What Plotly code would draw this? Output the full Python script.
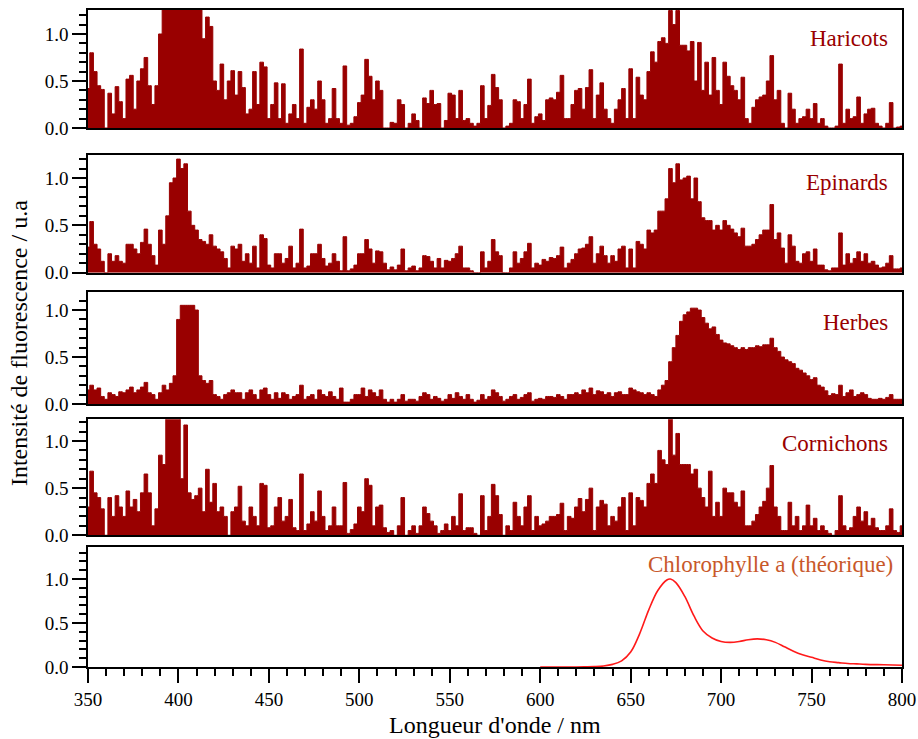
import plotly.graph_objects as go
from plotly.subplots import make_subplots

# Wavelength grid (nm) for the measured spectra
wavelength = list(range(350, 801, 2))

haricots = [
    0.42, 0.80, 0.60, 0.45, 0.41,
    0.00, 0.37, 0.15, 0.44, 0.28,
    0.10, 0.52, 0.56, 0.20, 0.50,
    0.63, 0.75, 0.45, 0.25, 0.45,
    1.00, 1.50, 1.50, 1.50, 1.50,
    1.50, 1.50, 1.50, 1.50, 1.50,
    1.50, 1.30, 0.95, 1.18, 1.08,
    0.50, 0.40, 0.68, 0.30, 0.50,
    0.61, 0.35, 0.60, 0.43, 0.15,
    0.20, 0.60, 0.25, 0.70, 0.65,
    0.10, 0.25, 0.48, 0.10, 0.47,
    0.05, 0.15, 0.25, 0.10, 0.84,
    0.05, 0.22, 0.30, 0.20, 0.50,
    0.30, 0.05, 0.10, 0.42, 0.10,
    0.05, 0.66, 0.03, 0.05, 0.12,
    0.27, 0.35, 0.73, 0.55, 0.30,
    0.50, 0.40, 0.00, 0.00, 0.06,
    0.05, 0.30, 0.25, 0.00, 0.05,
    0.15, 0.08, 0.00, 0.32, 0.26,
    0.40, 0.25, 0.26, 0.00, 0.08,
    0.37, 0.35, 0.10,
    0.40, 0.08, 0.10, 0.05, 0.02,
    0.05, 0.45, 0.10, 0.24, 0.57,
    0.43, 0.30, 0.00, 0.02, 0.05,
    0.30, 0.28, 0.10, 0.25, 0.52,
    0.05, 0.12, 0.15, 0.08, 0.30,
    0.32, 0.30, 0.38, 0.56, 0.10,
    0.10, 0.25, 0.40, 0.42, 0.20,
    0.43, 0.62, 0.10, 0.35, 0.48,
    0.20, 0.10, 0.05, 0.20, 0.30,
    0.42, 0.10, 0.63, 0.10, 0.54,
    0.35, 0.30, 0.60, 0.81, 0.70,
    0.92, 0.96, 0.90, 1.25, 1.10,
    1.25, 0.88, 0.88, 0.82, 0.92,
    0.50, 0.91, 0.40, 0.70, 0.35,
    0.75, 0.40, 0.25, 0.70, 0.55,
    0.45, 0.40, 0.30, 0.54, 0.10,
    0.05, 0.22, 0.30, 0.33, 0.35,
    0.50, 0.77, 0.30, 0.40, 0.05,
    0.00, 0.37, 0.20, 0.05, 0.10,
    0.12, 0.20, 0.10, 0.26, 0.05,
    0.10, 0.02, 0.00, 0.00, 0.02,
    0.68, 0.05, 0.20, 0.10, 0.12,
    0.33, 0.05, 0.15, 0.20, 0.21,
    0.05, 0.02, 0.00, 0.05, 0.27,
    0.00, 0.01, 0.02,
]

epinards = [
    0.27, 0.54, 0.30, 0.25, 0.12,
    0.00, 0.20, 0.12, 0.18, 0.12,
    0.10, 0.30, 0.30, 0.25, 0.20,
    0.32, 0.46, 0.30, 0.18, 0.08,
    0.45, 0.30, 0.60, 0.95, 1.00,
    1.20, 1.10, 1.15, 0.65, 0.50,
    0.45, 0.35, 0.33, 0.30, 0.40,
    0.28, 0.25, 0.22, 0.15, 0.05,
    0.28, 0.25, 0.30, 0.12, 0.20,
    0.10, 0.28, 0.05, 0.40, 0.36,
    0.08, 0.05, 0.20, 0.20, 0.10,
    0.15, 0.28, 0.05, 0.10, 0.46,
    0.05, 0.07, 0.20, 0.20, 0.30,
    0.15, 0.07, 0.10, 0.20, 0.12,
    0.02, 0.38, 0.02, 0.04, 0.08,
    0.20, 0.20, 0.35, 0.25, 0.10,
    0.23, 0.22, 0.10, 0.03, 0.06,
    0.03, 0.08, 0.25, 0.02, 0.05,
    0.07, 0.02, 0.05, 0.18, 0.17,
    0.12, 0.05, 0.15, 0.05, 0.13,
    0.12, 0.15, 0.20,
    0.28, 0.05, 0.05, 0.02, 0.00,
    0.00, 0.22, 0.05, 0.12, 0.35,
    0.22, 0.18, 0.00, 0.00, 0.05,
    0.22, 0.10, 0.15, 0.22, 0.31,
    0.05, 0.10, 0.08, 0.14, 0.12,
    0.16, 0.15, 0.18, 0.27, 0.05,
    0.10, 0.14, 0.20, 0.25, 0.26,
    0.30, 0.38, 0.10, 0.20, 0.28,
    0.18, 0.10, 0.18, 0.12, 0.25,
    0.28, 0.05, 0.25, 0.05, 0.33,
    0.30, 0.25, 0.45, 0.42, 0.45,
    0.65, 0.65, 0.78, 1.10, 0.95,
    1.15, 0.98, 1.00, 1.02, 0.78,
    1.00, 0.75, 0.58, 0.55, 0.55,
    0.45, 0.50, 0.45, 0.55, 0.50,
    0.46, 0.42, 0.38, 0.47, 0.28,
    0.28, 0.30, 0.35, 0.40, 0.45,
    0.45, 0.72, 0.35, 0.42, 0.26,
    0.10, 0.40, 0.28, 0.12, 0.10,
    0.20, 0.22, 0.12, 0.25, 0.08,
    0.08, 0.03, 0.02, 0.05, 0.05,
    0.42, 0.08, 0.20, 0.10, 0.15,
    0.22, 0.12, 0.20, 0.10, 0.12,
    0.08, 0.05, 0.06, 0.10, 0.18,
    0.04, 0.04, 0.05,
]

herbes = [
    0.15, 0.20, 0.15, 0.17, 0.08,
    0.05, 0.12, 0.10, 0.08, 0.13,
    0.12, 0.15, 0.18, 0.12, 0.15,
    0.18, 0.23, 0.12, 0.10, 0.05,
    0.12, 0.20, 0.15, 0.22, 0.30,
    0.90, 1.05, 1.05, 1.05, 1.05,
    1.00, 0.30, 0.25, 0.22, 0.25,
    0.10, 0.08, 0.05, 0.10, 0.12,
    0.15, 0.12, 0.12, 0.05, 0.12,
    0.15, 0.10, 0.05, 0.15, 0.17,
    0.10, 0.05, 0.12, 0.06, 0.12,
    0.10, 0.05, 0.08, 0.10, 0.20,
    0.05, 0.08, 0.10, 0.05, 0.15,
    0.10, 0.08, 0.13, 0.08, 0.05,
    0.17, 0.02, 0.02, 0.05, 0.10,
    0.10, 0.17, 0.08, 0.15, 0.12,
    0.08, 0.15, 0.05, 0.02, 0.05,
    0.02, 0.05, 0.10, 0.03, 0.05,
    0.05, 0.03, 0.08, 0.12, 0.10,
    0.05, 0.08, 0.06, 0.03, 0.05,
    0.10, 0.06, 0.12,
    0.08, 0.05, 0.10, 0.05, 0.02,
    0.04, 0.10, 0.05, 0.08, 0.15,
    0.12, 0.08, 0.03, 0.05, 0.08,
    0.10, 0.05, 0.07, 0.10, 0.12,
    0.03, 0.05, 0.06, 0.05, 0.08,
    0.08, 0.07, 0.10, 0.08, 0.05,
    0.10, 0.10, 0.12, 0.10, 0.15,
    0.12, 0.17, 0.10, 0.14, 0.13,
    0.10, 0.12, 0.08, 0.12, 0.13,
    0.10, 0.10, 0.17, 0.15, 0.13,
    0.12, 0.10, 0.12, 0.10, 0.08,
    0.15, 0.20, 0.25, 0.45, 0.60,
    0.73, 0.88, 0.95, 0.98, 1.02,
    1.02, 1.00, 0.92, 0.86, 0.80,
    0.82, 0.74, 0.68, 0.65, 0.64,
    0.62, 0.60, 0.58, 0.60, 0.58,
    0.60, 0.60, 0.62, 0.61, 0.63,
    0.63, 0.70, 0.60, 0.56, 0.50,
    0.47, 0.45, 0.43, 0.38, 0.36,
    0.33, 0.30, 0.26, 0.28, 0.20,
    0.18, 0.14, 0.09, 0.11, 0.10,
    0.20, 0.08, 0.12, 0.15, 0.08,
    0.10, 0.12, 0.10, 0.06, 0.05,
    0.05, 0.06, 0.05, 0.07, 0.10,
    0.05, 0.05, 0.05,
]

cornichons = [
    0.30, 0.68, 0.45, 0.40, 0.28,
    0.00, 0.40, 0.20, 0.42, 0.30,
    0.20, 0.47, 0.30, 0.38, 0.25,
    0.45, 0.65, 0.45, 0.10, 0.28,
    0.85, 0.75, 1.30, 1.30, 1.30,
    1.30, 0.60, 1.17, 0.45, 0.38,
    0.42, 0.50, 0.25, 0.70, 0.35,
    0.55, 0.25, 0.30, 0.20, 0.00,
    0.25, 0.30, 0.52, 0.15, 0.10,
    0.30, 0.20, 0.10, 0.55, 0.53,
    0.08, 0.10, 0.30, 0.40, 0.15,
    0.20, 0.38, 0.08, 0.05, 0.65,
    0.05, 0.12, 0.25, 0.15, 0.47,
    0.20, 0.05, 0.10, 0.30, 0.10,
    0.10, 0.56, 0.02, 0.06, 0.12,
    0.30, 0.25, 0.60, 0.53, 0.10,
    0.30, 0.32, 0.08, 0.03, 0.05,
    0.00, 0.10, 0.40, 0.00, 0.05,
    0.10, 0.02, 0.10, 0.30, 0.23,
    0.15, 0.10, 0.02, 0.05, 0.12,
    0.05, 0.20, 0.10,
    0.44, 0.05, 0.08, 0.08, 0.02,
    0.00, 0.42, 0.05, 0.20, 0.54,
    0.42, 0.22, 0.00, 0.10, 0.05,
    0.35, 0.20, 0.10, 0.30, 0.42,
    0.05, 0.20, 0.10, 0.12, 0.15,
    0.20, 0.20, 0.22, 0.34, 0.05,
    0.20, 0.18, 0.30, 0.39, 0.25,
    0.38, 0.50, 0.05, 0.30, 0.37,
    0.33, 0.10, 0.20, 0.15, 0.30,
    0.40, 0.05, 0.45, 0.10, 0.40,
    0.37, 0.30, 0.55, 0.65, 0.55,
    0.90, 0.80, 0.75, 1.25, 0.85,
    1.08, 0.75, 0.75, 0.75, 0.65,
    0.70, 0.50, 0.40, 0.30, 0.68,
    0.20, 0.35, 0.20, 0.50, 0.45,
    0.45, 0.35, 0.30, 0.47, 0.10,
    0.10, 0.15, 0.22, 0.30, 0.36,
    0.50, 0.74, 0.30, 0.20, 0.05,
    0.05, 0.35, 0.10, 0.20, 0.05,
    0.10, 0.32, 0.10, 0.18, 0.05,
    0.10, 0.05, 0.02, 0.00, 0.05,
    0.42, 0.10, 0.05, 0.08, 0.20,
    0.30, 0.15, 0.25, 0.10, 0.18,
    0.08, 0.05, 0.05, 0.10, 0.28,
    0.05, 0.03, 0.10,
]

# Theoretical chlorophyll a emission spectrum
chl_wavelength = [600, 605, 610, 615, 620, 625, 630, 635, 640, 645, 650, 655, 660,
                  665, 670, 672, 675, 680, 685, 690, 695, 700, 705, 710, 715, 720,
                  725, 730, 735, 740, 745, 750, 755, 760, 765, 770, 775, 780, 790, 800]
chl_intensity = [0.0, 0.0, 0.0, 0.0, 0.0, 0.002, 0.005, 0.012, 0.03, 0.07, 0.17, 0.38,
                 0.65, 0.87, 0.99, 1.0, 0.96, 0.8, 0.58, 0.41, 0.33, 0.29, 0.28, 0.29,
                 0.31, 0.32, 0.31, 0.28, 0.23, 0.18, 0.14, 0.11, 0.08, 0.06, 0.05,
                 0.04, 0.035, 0.03, 0.025, 0.02]

sample_names = ["Haricots", "Epinards", "Herbes", "Cornichons"]
sample_data = [haricots, epinards, herbes, cornichons]
chl_label = "Chlorophylle a (théorique)"

y_ranges = [1.255, 1.243, 1.195, 1.23, 1.368]
domains = [[0.8204, 1.0], [0.6002, 0.7793], [0.4003, 0.5712], [0.2005, 0.3770], [0.0, 0.1831]]
label_y = [0.76, 0.77, 0.73, 0.79, 0.85]

DARK_RED = "#990000"
FONT = "Liberation Serif"

fig = make_subplots(rows=5, cols=1, shared_xaxes=False)

for i, (name, vals) in enumerate(zip(sample_names, sample_data)):
    fig.add_trace(go.Scatter(x=wavelength, y=vals, mode="lines", fill="tozeroy",
                             line=dict(color=DARK_RED, width=1, shape="hvh"),
                             fillcolor=DARK_RED,
                             showlegend=False, hoverinfo="skip"), row=i + 1, col=1)

fig.add_trace(go.Scatter(x=chl_wavelength, y=chl_intensity, mode="lines", line_shape="spline",
                         line=dict(color="#ff1a1a", width=1.6), showlegend=False),
              row=5, col=1)

for i in range(5):
    r = i + 1
    last = (i == 4)
    fig.update_xaxes(row=r, col=1, range=[350, 800], domain=[0, 1], automargin=False,
                     showline=True, linecolor="black", linewidth=1.5, mirror=True,
                     showgrid=False, zeroline=False,
                     ticks="outside" if last else "", ticklen=14, tickwidth=1.5,
                     tickcolor="black", dtick=50, tick0=350,
                     showticklabels=last,
                     minor=dict(ticks="outside" if last else "", ticklen=7, tickwidth=1.5,
                                dtick=10, tickcolor="black"),
                     tickfont=dict(family=FONT, size=19, color="black"))
    fig.update_yaxes(row=r, col=1, range=[0, y_ranges[i]], domain=domains[i], automargin=False,
                     showline=True, linecolor="black", linewidth=1.5, mirror=True,
                     showgrid=False, zeroline=False,
                     ticks="outside", ticklen=14, tickwidth=1.5, tickcolor="black",
                     dtick=0.5, tick0=0, tickformat=".1f",
                     minor=dict(ticks="outside", ticklen=7, tickwidth=1.5, dtick=0.1,
                                tickcolor="black"),
                     tickfont=dict(family=FONT, size=19, color="black"))

xrefs = ["x domain", "x2 domain", "x3 domain", "x4 domain", "x5 domain"]
yrefs = ["y domain", "y2 domain", "y3 domain", "y4 domain", "y5 domain"]
labels = sample_names + [chl_label]
colors = [DARK_RED] * 4 + ["#c8582a"]
for i, (lab, col) in enumerate(zip(labels, colors)):
    fig.add_annotation(text=lab, xref=xrefs[i], yref=yrefs[i], x=0.985 if i < 4 else 0.991,
                       y=label_y[i], xanchor="right", yanchor="middle", showarrow=False,
                       font=dict(family=FONT, size=23, color=col))

fig.add_annotation(text="Longueur d'onde / nm", xref="paper", yref="paper",
                   x=0.5, y=-0.088, xanchor="center", yanchor="middle", showarrow=False,
                   font=dict(family=FONT, size=24, color="black"))
fig.add_annotation(text="Intensité de fluorescence / u.a", xref="paper", yref="paper",
                   x=-0.0848, y=0.493, xanchor="center", yanchor="middle", showarrow=False,
                   textangle=-90, font=dict(family=FONT, size=24, color="black"))

fig.update_layout(width=918, height=739, margin=dict(l=88, r=16, t=10, b=72),
                  paper_bgcolor="white", plot_bgcolor="white",
                  font=dict(family=FONT, color="black"))

fig.write_html("out.html", config={"displayModeBar": False},
               post_script="document.body.style.margin='0';document.body.style.padding='0';"
                           "document.documentElement.style.overflow='hidden';")
